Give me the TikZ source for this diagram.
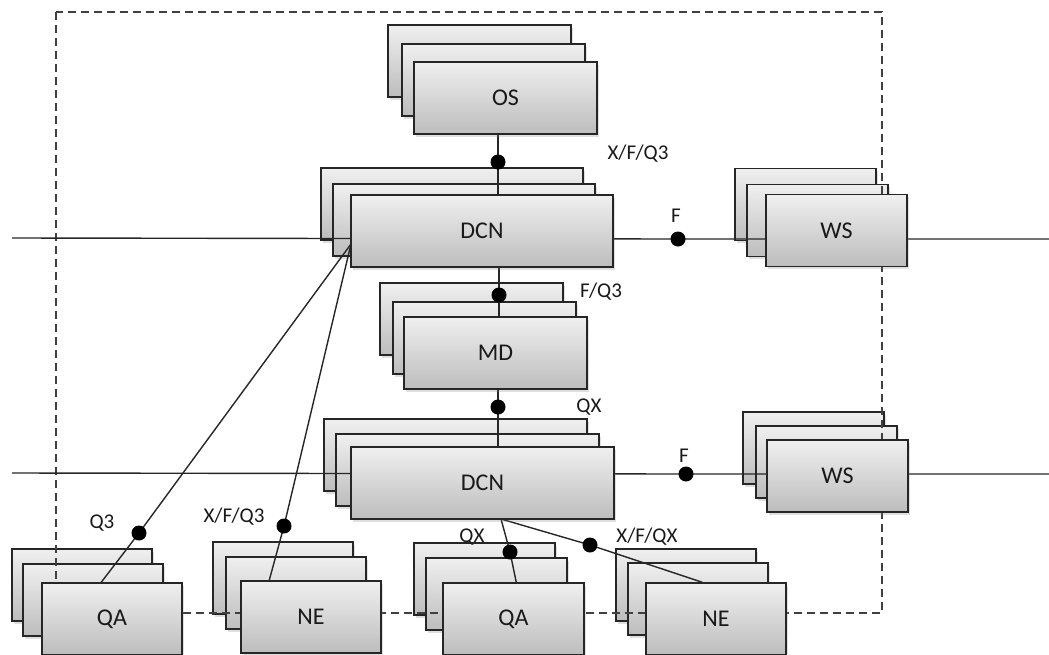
\documentclass[tikz,border=0pt]{standalone}
\usepackage{fontspec}
\setmainfont{Carlito}
\usetikzlibrary{calc,shadows}
\pgfdeclarelayer{back}
\pgfdeclarelayer{wires}
\pgfsetlayers{back,wires,main}
\tikzset{
	box/.style={draw=black!85, line width=1.5pt, top color=black!6, bottom color=black!26,
			minimum height=72pt, inner sep=0pt, text=black!90,
			font=\fontsize{24}{24}\selectfont,
			drop shadow={shadow xshift=2pt, shadow yshift=-2.5pt, opacity=0.25}},
	dot/.style={circle, fill=black, inner sep=0pt, minimum size=15pt},
	lab/.style={anchor=base, inner sep=0pt, text=black!90, font=\fontsize{21}{21}\selectfont},
	frame/.style={draw=black!75, line width=1.4pt, dash pattern=on 8pt off 5pt},
	wire/.style={draw=black!85, line width=1.4pt}
}
\begin{document}
\begin{tikzpicture}[x=1pt, y=-1pt]
	\useasboundingbox (0,0) rectangle (1049,654);
	% front boxes
	\node[box, minimum width=183pt] (os) at (505.5,98) {OS};
	\node[box, minimum width=262pt] (dcnA) at (482,231) {DCN};
	\node[box, minimum width=141pt] (wsA) at (836.5,230.5) {WS};
	\node[box, minimum width=183pt] (md) at (495.5,353) {MD};
	\node[box, minimum width=263pt] (dcnB) at (482.5,483) {DCN};
	\node[box, minimum width=141pt] (wsB) at (837.5,476) {WS};
	\node[box, minimum width=140pt] (qaA) at (112,619) {QA};
	\node[box, minimum width=140pt] (neA) at (311,617) {NE};
	\node[box, minimum width=141pt] (qaB) at (513.5,619) {QA};
	\node[box, minimum width=140pt] (neB) at (716,619) {NE};
	% copies behind each front box
	\begin{pgfonlayer}{back}
		\foreach \n/\w/\ax/\ay/\bx/\by in {os/183/12/18/26/37, dcnA/262/18/11/30/27,
				wsA/141/19/10/31/26, md/183/11/15/24/34, dcnB/263/15/13/27/28,
				wsB/141/11/14/24/28, qaA/140/19/19/30/34, neA/140/15/24/28/39,
				qaB/141/17/25/29/40, neB/140/18/20/30/34}{
				\node[box, minimum width=\w pt] at ($(\n)+(-\bx,-\by)$) {};
				\node[box, minimum width=\w pt] at ($(\n)+(-\ax,-\ay)$) {};
			}
	\end{pgfonlayer}
	% dots
	\node[dot] (dOS) at (498,162) {};
	\node[dot] (dMDa) at (499,295) {};
	\node[dot] (dMDb) at (498,407) {};
	\node[dot] (dWSA) at (678,239) {};
	\node[dot] (dWSB) at (686,474) {};
	\node[dot] (dQAA) at (139,533) {};
	\node[dot] (dNEA) at (284,526) {};
	\node[dot] (dQAB) at (510,552) {};
	\node[dot] (dNEB) at (590,545) {};
	% free ends
	\coordinate (inA) at (12,238);
	\coordinate (outA) at (1049,239);
	\coordinate (inB) at (12,473);
	\coordinate (outB) at (1049,474);
	\coordinate (hubA) at (351,244);
	\coordinate (hubB) at (501,519);
	\begin{pgfonlayer}{wires}
		\draw[frame] (56,12) rectangle (882,613);
		\draw[wire] (inA) -- (dWSA.center) -- (outA);
		\draw[wire] (inB) -- (dWSB.center) -- (outB);
		\draw[wire] (dOS |- os.south) -- (dOS |- dcnA.north);
		\draw[wire] (dMDa |- dcnA.south) -- (dMDa |- md.north);
		\draw[wire] (dMDb |- md.south) -- (dMDb |- dcnB.north);
		\draw[wire] (hubA) -- (dQAA.center) -- ($(qaA.north west)+(60,0)$);
		\draw[wire] (hubA) -- (dNEA.center) -- ($(neA.north west)+(29,0)$);
		\draw[wire] (hubB) -- (dQAB.center) -- ($(qaB.north west)+(74,0)$);
		\draw[wire] (hubB) -- (dNEB.center) -- ($(neB.north west)+(57,0)$);
	\end{pgfonlayer}
	% labels
	\node[lab] (lOS) at (638,159) {X/F/Q3};
	\node[lab] (lWSA) at (676,222) {F};
	\node[lab] (lMDa) at (601,297) {F/Q3};
	\node[lab] (lMDb) at (589,412) {QX};
	\node[lab] (lWSB) at (684,462) {F};
	\node[lab] (lQAA) at (102,528) {Q3};
	\node[lab] (lNEA) at (234,522) {X/F/Q3};
	\node[lab] (lQAB) at (472,542) {QX};
	\node[lab] (lNEB) at (647,542) {X/F/QX};
\end{tikzpicture}
\end{document}
